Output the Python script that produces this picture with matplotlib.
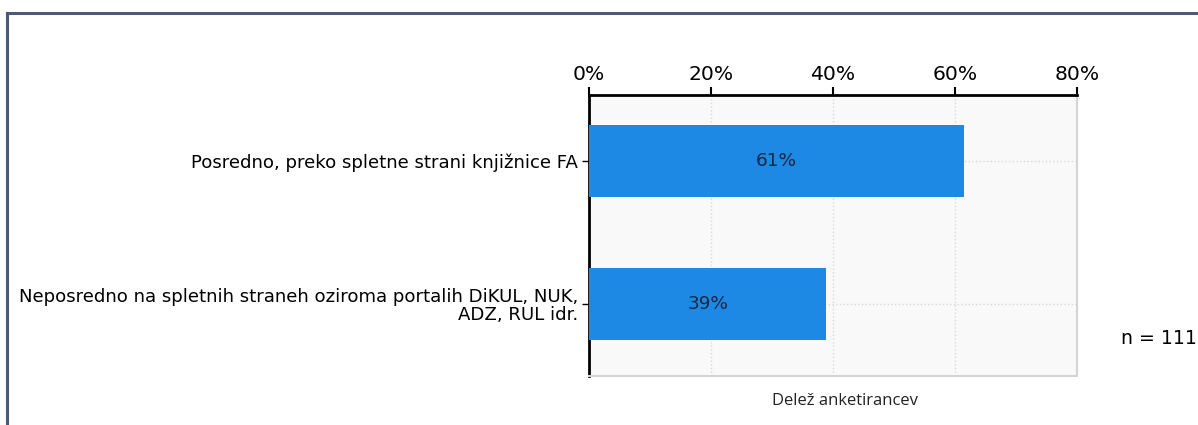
import matplotlib.pyplot as plt
from matplotlib.lines import Line2D

categories = ['Posredno, preko spletne strani knjižnice FA',
              'Neposredno na spletnih straneh oziroma portalih DiKUL, NUK,\nADZ, RUL idr.']
values = [61.4, 38.9]
value_labels = ['61%', '39%']
ticks = [0, 20, 40, 60, 80]
n_text = 'n = 111'
xlabel = 'Delež anketirancev'

bar_color = '#1e88e5'
text_color = '#1a2742'

fig = plt.figure(figsize=(11.98, 4.25), dpi=100)
ax = fig.add_axes([589 / 1198, 1 - 376 / 425, 488 / 1198, 281 / 425])
ax.set_facecolor('#f9f9f9')

y = list(range(len(categories)))
ax.barh(y, values, height=0.5, color=bar_color, zorder=3)
for yi, v, lab in zip(y, values, value_labels):
    ax.text(v / 2, yi, lab, ha='center', va='center', fontsize=13.3,
            color=text_color, zorder=4)

ax.set_xlim(0, 80)
ax.set_ylim(1.5, -0.46)
ax.set_yticks(y)
ax.set_yticklabels(categories, fontsize=13.1, color='black', ha='right',
                   linespacing=0.95)
ax.set_xticks(ticks)
ax.set_xticklabels([f'{t}%' for t in ticks], fontsize=14.6, color='black')
ax.xaxis.tick_top()
ax.tick_params(axis='x', length=6, width=1.5, color='black', pad=2)
ax.tick_params(axis='y', length=5, width=1, color='black', pad=3)
ax.grid(axis='both', color='#d8d8d8', linestyle=':', linewidth=1, zorder=0)
ax.set_axisbelow(True)

ax.spines['top'].set_color('black')
ax.spines['top'].set_linewidth(2)
ax.spines['left'].set_color('black')
ax.spines['left'].set_linewidth(2)
ax.spines['right'].set_color('#d4d4d4')
ax.spines['bottom'].set_color('#d4d4d4')
ax.spines['right'].set_linewidth(1.5)
ax.spines['bottom'].set_linewidth(1.5)

fig.text(845 / 1198, 1 - 401 / 425, xlabel, ha='center', va='center',
         fontsize=12, color='#222222', family='Open Sans')
fig.text(1197 / 1198, 1 - 338 / 425, n_text, ha='right', va='center',
         fontsize=13.6, color='black')

# outer frame (top and left only visible)
fig.add_artist(Line2D([7 / 1198, 7 / 1198], [0, 1 - 13 / 425],
                      color='#4a5a78', linewidth=2.2))
fig.add_artist(Line2D([7 / 1198, 1], [1 - 13 / 425, 1 - 13 / 425],
                      color='#4a5a78', linewidth=2.2))

fig.savefig('out.png', dpi=100)
